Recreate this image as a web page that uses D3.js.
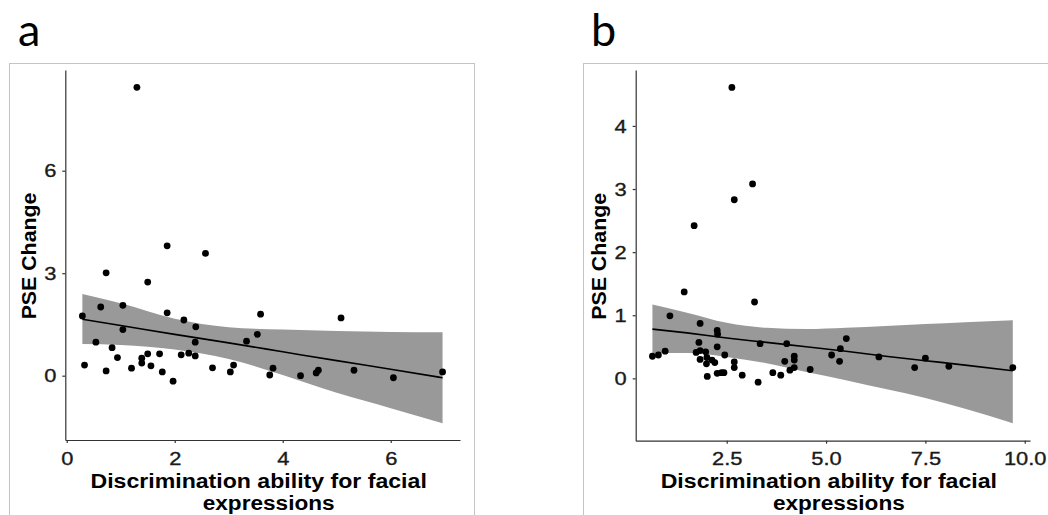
<!DOCTYPE html>
<html>
<head>
<meta charset="utf-8">
<script src="https://cdn.jsdelivr.net/npm/d3@7"></script>
<style>
  html, body { margin: 0; padding: 0; background: #fff; }
  svg { display: block; }
</style>
</head>
<body>
<svg id="fig" width="1048" height="515"></svg>
<script>
// ---- Panel a: observations ----
const aDiscrim = [1.30,1.86,2.57,0.73,1.50,0.63,1.04,1.86,0.29,2.17,2.39,3.59,5.08,1.04,3.53,3.33,2.38,0.54,0.84,1.50,1.72,2.12,2.26,2.38,0.94,0.33,1.39,1.39,1.56,1.20,0.73,1.77,1.97,2.70,3.09,3.03,3.82,3.76,4.33,4.62,4.66,5.32,6.05,6.96];
const aPse     = [8.44,3.80,3.58,3.01,2.74,2.01,2.06,1.84,1.75,1.63,1.43,1.80,1.69,1.35,1.21,1.01,0.98,0.98,0.82,0.64,0.64,0.61,0.66,0.58,0.53,0.31,0.51,0.37,0.29,0.22,0.14,0.11,-0.16,0.23,0.31,0.11,0.22,0.02,0.00,0.08,0.16,0.16,-0.06,0.11];

// Panel a: regression line and confidence band
const aFitX   = [0.29, 1.0, 2.0, 3.0, 4.0, 5.0, 6.0, 6.96];
const aFit    = [1.65, 1.47, 1.21, 0.96, 0.70, 0.44, 0.19, -0.06];
const aUpper  = [2.39, 2.12, 1.67, 1.42, 1.35, 1.31, 1.28, 1.27];
const aLower  = [0.93, 0.90, 0.77, 0.49, 0.02, -0.50, -0.95, -1.39];

// ---- Panel b: observations ----
const bDiscrim = [2.63,3.15,2.69,1.68,1.43,3.20,1.07,1.83,2.26,2.27,0.63,0.78,0.95,1.80,1.73,1.83,1.97,1.83,2.00,1.99,2.13,2.20,2.26,2.45,2.01,2.26,2.37,2.43,2.69,2.69,2.89,3.29,3.34,3.66,3.86,3.96,4.01,4.09,4.20,4.20,4.20,4.60,5.14,5.34,5.36,5.51,6.33,7.23,7.50,8.09,9.70];
const bPse     = [4.61,3.08,2.83,2.42,1.37,1.21,0.99,0.87,0.76,0.70,0.35,0.37,0.43,0.57,0.41,0.44,0.42,0.30,0.33,0.23,0.29,0.25,0.50,0.37,0.03,0.08,0.09,0.09,0.26,0.17,0.05,-0.06,0.55,0.09,0.05,0.27,0.55,0.13,0.35,0.29,0.17,0.14,0.37,0.27,0.47,0.63,0.34,0.17,0.32,0.19,0.17];

// Panel b: regression line and confidence band
const bFitX   = [0.63, 1.5, 2.5, 3.5, 4.5, 5.5, 6.5, 7.5, 8.5, 9.70];
const bFit    = [0.78, 0.72, 0.64, 0.57, 0.50, 0.43, 0.35, 0.28, 0.21, 0.12];
const bUpper  = [1.17, 1.04, 0.88, 0.80, 0.78, 0.80, 0.83, 0.86, 0.89, 0.92];
const bLower  = [0.40, 0.40, 0.34, 0.24, 0.10, -0.03, -0.17, -0.31, -0.48, -0.71];

// Axis ticks
const aXTicks = [0, 2, 4, 6];
const aYTicks = [0, 3, 6];
const bXTicks = [2.5, 5.0, 7.5, 10.0];
const bYTicks = [0, 1, 2, 3, 4];

const xTitleLines = ["Discrimination ability for facial", "expressions"];
const yTitle = "PSE Change";

const svg = d3.select("#fig");

// stretch a text element horizontally along its run
function widen(sel, k) {
  sel.each(function () {
    const w = this.getComputedTextLength();
    d3.select(this).attr("textLength", w * k).attr("lengthAdjust", "spacingAndGlyphs");
  });
}

function panel(cfg) {
  const g = svg.append("g");

  // outer frame
  g.append("rect")
    .attr("x", cfg.frame[0] + 0.5).attr("y", cfg.frame[1] + 0.5)
    .attr("width", cfg.frame[2]).attr("height", cfg.frame[3])
    .attr("fill", "none").attr("stroke", "#c4c4c4").attr("stroke-width", 1);

  // panel letter
  g.append("text")
    .attr("x", cfg.letterX).attr("y", 46)
    .attr("font-family", "Lato, 'Open Sans', sans-serif")
    .attr("font-size", 45).attr("fill", "#000")
    .text(cfg.letter);

  const x = d3.scaleLinear().domain(cfg.xDomain).range([cfg.left, cfg.right]);
  const y = d3.scaleLinear().domain(cfg.yDomain).range([cfg.bottom, cfg.top]);

  const band = cfg.fitX.map((v, i) => ({ x: v, lo: cfg.lower[i], hi: cfg.upper[i], fit: cfg.fit[i] }));

  g.append("path")
    .datum(band)
    .attr("fill", "#999999")
    .attr("d", d3.area().curve(d3.curveMonotoneX)
      .x(d => x(d.x)).y0(d => y(d.lo)).y1(d => y(d.hi)));

  g.append("path")
    .datum(band)
    .attr("fill", "none").attr("stroke", "#000").attr("stroke-width", 1.6)
    .attr("d", d3.line().curve(d3.curveMonotoneX).x(d => x(d.x)).y(d => y(d.fit)));

  const pts = cfg.xs.map((v, i) => ({ x: v, y: cfg.ys[i] }));
  g.append("g").selectAll("circle").data(pts).join("circle")
    .attr("cx", d => x(d.x)).attr("cy", d => y(d.y))
    .attr("r", 3.4).attr("fill", "#000");

  // axes
  const xAxis = g.append("g").attr("transform", `translate(0,${cfg.bottom})`)
    .call(d3.axisBottom(x).tickValues(cfg.xTicks).tickFormat(cfg.xFmt).tickSizeInner(3).tickSizeOuter(0).tickPadding(6));
  const yAxis = g.append("g").attr("transform", `translate(${cfg.left},0)`)
    .call(d3.axisLeft(y).tickValues(cfg.yTicks).tickFormat(cfg.yFmt).tickSizeInner(3).tickSizeOuter(0).tickPadding(6));

  [xAxis, yAxis].forEach(ax => {
    ax.select(".domain").attr("stroke", "#333").attr("stroke-width", 1.2);
    ax.selectAll(".tick line").attr("stroke", "#333").attr("stroke-width", 1.2);
    ax.selectAll(".tick text")
      .attr("font-family", "'Liberation Sans', Arial, sans-serif")
      .attr("font-size", 19).attr("fill", "#1a1a1a")
      .attr("stroke", "#1a1a1a").attr("stroke-width", 0.35);
  });
  widen(xAxis.selectAll(".tick text"), 1.15);
  widen(yAxis.selectAll(".tick text"), 1.15);
  xAxis.selectAll(".tick text").attr("dy", null).attr("y", 24.5);

  // axis titles
  const cx = (cfg.left + cfg.right) / 2;
  const t1 = g.append("text")
    .attr("x", cx - 4).attr("y", 488).attr("text-anchor", "middle")
    .attr("font-family", "'Liberation Sans', Arial, sans-serif")
    .attr("font-weight", "bold").attr("font-size", 20).attr("fill", "#000")
    .text(xTitleLines[0]);
  const t2 = g.append("text")
    .attr("x", cx + 6).attr("y", 510).attr("text-anchor", "middle")
    .attr("font-family", "'Liberation Sans', Arial, sans-serif")
    .attr("font-weight", "bold").attr("font-size", 20).attr("fill", "#000")
    .text(xTitleLines[1]);
  widen(t1, 1.155);
  widen(t2, 1.13);

  const yt = g.append("text")
    .attr("transform", `translate(${cfg.yTitleX},${(cfg.top + cfg.bottom) / 2 + 1}) rotate(-90)`)
    .attr("text-anchor", "middle")
    .attr("font-family", "'Liberation Sans', Arial, sans-serif")
    .attr("font-weight", "bold").attr("font-size", 21).attr("fill", "#000")
    .text(yTitle);
  widen(yt, 1.015);
}

panel({
  letter: "a", letterX: 18,
  frame: [9, 63, 465, 470],
  left: 65.3, right: 460, top: 70, bottom: 440,
  xDomain: [-0.026, 7.283], yDomain: [-1.882, 8.947],
  xs: aDiscrim, ys: aPse,
  fitX: aFitX, fit: aFit, upper: aUpper, lower: aLower,
  xTicks: aXTicks, yTicks: aYTicks,
  xFmt: d3.format("d"), yFmt: d3.format("d"),
  yTitleX: 36
});

panel({
  letter: "b", letterX: 591,
  frame: [583, 63, 470, 470],
  left: 635.7, right: 1030, top: 70, bottom: 440.7,
  xDomain: [0.209, 10.133], yDomain: [-0.988, 4.886],
  xs: bDiscrim, ys: bPse,
  fitX: bFitX, fit: bFit, upper: bUpper, lower: bLower,
  xTicks: bXTicks, yTicks: bYTicks,
  xFmt: d3.format(".1f"), yFmt: d3.format("d"),
  yTitleX: 606
});
</script>
</body>
</html>
